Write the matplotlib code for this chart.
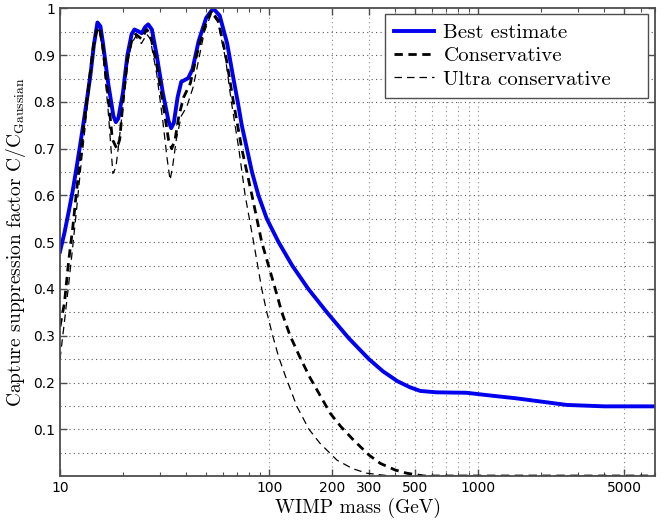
import matplotlib
matplotlib.use('Agg')
import matplotlib.pyplot as plt
from matplotlib.ticker import FixedLocator, FixedFormatter, LogLocator, NullFormatter

plt.rcParams['mathtext.fontset'] = 'cm'
plt.rcParams['axes.unicode_minus'] = False

# WIMP mass (GeV) and suppression factor
mass_best = [10, 10.5, 11, 11.5, 12, 12.5, 13, 13.5, 14, 14.5, 15.1, 15.6, 16, 17, 18, 18.5,
             19, 20, 21, 22, 22.7, 23.5, 24.6, 25.5, 26.4, 27.5, 29, 31, 33, 34, 35, 36.5,
             38, 41, 43, 46, 50, 54, 58, 63, 67.5, 70.8, 74, 78.3, 82.8, 88.9, 97.5, 111,
             129, 154, 189, 240, 300, 350, 410, 470, 528, 630, 880, 1100, 1530, 2650, 4000,
             7000]
best = [0.48, 0.52, 0.565, 0.61, 0.66, 0.71, 0.76, 0.81, 0.86, 0.92, 0.97, 0.962, 0.93, 0.84,
        0.77, 0.757, 0.765, 0.82, 0.90, 0.945, 0.955, 0.952, 0.947, 0.96, 0.966, 0.955, 0.90,
        0.82, 0.76, 0.744, 0.755, 0.81, 0.843, 0.851, 0.87, 0.93, 0.98, 1.0, 0.985, 0.925,
        0.85, 0.80, 0.75, 0.70, 0.65, 0.60, 0.55, 0.50, 0.45, 0.40, 0.35, 0.295, 0.25, 0.224,
        0.203, 0.19, 0.182, 0.179, 0.178, 0.173, 0.166, 0.152, 0.149, 0.149]

mass_cons = [10, 10.5, 11, 11.5, 12, 12.5, 13, 13.5, 14, 14.5, 15, 15.4, 16, 17, 17.8, 18.7,
             19.3, 20, 21, 22, 23, 24.5, 26, 27, 29, 31, 33, 34.2, 35.5, 37, 39, 42, 45, 49,
             53, 57, 62, 67.5, 74, 82.8, 92.2, 107, 115, 126, 140, 157, 196, 220, 253, 300,
             340, 400, 455, 550, 7000]
cons = [0.32, 0.37, 0.46, 0.53, 0.61, 0.68, 0.75, 0.81, 0.87, 0.925, 0.955, 0.96, 0.92, 0.81,
        0.72, 0.70, 0.72, 0.80, 0.89, 0.93, 0.945, 0.935, 0.955, 0.945, 0.88, 0.80, 0.72,
        0.70, 0.72, 0.77, 0.81, 0.84, 0.90, 0.96, 0.995, 0.975, 0.90, 0.80, 0.70, 0.60, 0.50,
        0.40, 0.35, 0.30, 0.255, 0.21, 0.134, 0.106, 0.077, 0.045, 0.027, 0.013, 0.006, 0.0,
        0.0]

mass_ultra = [10, 10.5, 11, 11.5, 12, 12.5, 13, 13.5, 14, 14.5, 15, 15.4, 16, 17, 17.9, 18.5,
              19.2, 20, 21, 22, 23, 24.5, 26, 27, 29, 31, 32.5, 33.6, 34.5, 36, 38, 40.4,
              43.4, 46, 49, 53, 57, 62, 66, 71.6, 76.8, 84.3, 92.2, 97.5, 104, 111, 120, 136,
              155, 175, 211, 250, 293, 380, 7000]
ultra = [0.25, 0.33, 0.41, 0.49, 0.57, 0.65, 0.72, 0.79, 0.855, 0.915, 0.95, 0.955, 0.91,
         0.78, 0.647, 0.66, 0.72, 0.79, 0.88, 0.925, 0.94, 0.925, 0.945, 0.935, 0.86, 0.76,
         0.68, 0.633, 0.66, 0.72, 0.77, 0.79, 0.833, 0.89, 0.95, 0.99, 0.97, 0.89, 0.80,
         0.70, 0.60, 0.50, 0.40, 0.35, 0.30, 0.255, 0.212, 0.148, 0.10, 0.07, 0.034, 0.016,
         0.006, 0.0, 0.0]

xtick_vals = [10, 100, 200, 300, 500, 1000, 5000]
xgrid_vals = [100, 200, 300, 400, 500, 600, 700, 800, 900, 1000, 5000]
ytick_vals = [0.1, 0.2, 0.3, 0.4, 0.5, 0.6, 0.7, 0.8, 0.9, 1.0]
ytick_labels = ['0.1', '0.2', '0.3', '0.4', '0.5', '0.6', '0.7', '0.8', '0.9', '1']

fig = plt.figure(figsize=(6.72, 5.2), dpi=100)
ax = fig.add_axes([0.0893, 0.0846, 0.8854, 0.8991])

# rejilla punteada
for yv in [i * 0.05 for i in range(1, 20)]:
    ax.axhline(yv, color='0.35', linestyle=(0, (1, 3)), linewidth=0.8, zorder=0)
for xv in xgrid_vals:
    ax.axvline(xv, color='0.55', linestyle=(0, (1, 3)), linewidth=0.8, zorder=0)

ax.plot(mass_best, best, color='#0000ee', linewidth=2.8, label='Best estimate')
ax.plot(mass_cons, cons, color='black', linewidth=2.0, linestyle=(0, (3, 2)),
        label='Conservative')
ax.plot(mass_ultra, ultra, color='black', linewidth=0.9, linestyle=(0, (6, 4)),
        label='Ultra conservative')

ax.set_xscale('log')
ax.set_xlim(10, 7000)
ax.set_ylim(0, 1)

ax.xaxis.set_major_locator(FixedLocator(xtick_vals))
ax.xaxis.set_major_formatter(FixedFormatter([str(v) for v in xtick_vals]))
ax.xaxis.set_minor_locator(LogLocator(base=10, subs=range(2, 10)))
ax.xaxis.set_minor_formatter(NullFormatter())
ax.yaxis.set_major_locator(FixedLocator(ytick_vals))
ax.yaxis.set_major_formatter(FixedFormatter(ytick_labels))

ax.tick_params(which='both', direction='in', top=True, right=True, colors='0.3',
               labelcolor='black', labelsize=10)
ax.tick_params(which='major', length=5, width=1)
ax.tick_params(which='minor', length=3, width=0.8)
for s in ax.spines.values():
    s.set_color('0.3')
    s.set_linewidth(1.3)

ax.set_xlabel('WIMP mass (GeV)', fontfamily='cmr10', fontsize=14, labelpad=2)
ax.set_ylabel(r'Capture suppression factor C/C$_{\mathrm{Gaussian}}$', fontfamily='cmr10',
              fontsize=14, labelpad=4)

# leyenda con el ancho del recuadro original
leg = ax.legend(loc='upper left', bbox_to_anchor=(0.546, 0.0, 0.442, 0.988), mode='expand',
                borderaxespad=0.0, fancybox=False, framealpha=1, edgecolor='0.3',
                prop={'family': 'cmr10', 'size': 15}, handlelength=1.9,
                handletextpad=0.45, borderpad=0.46, labelspacing=0.22)
leg.get_frame().set_linewidth(1.0)

plt.savefig('out.png', dpi=100)
